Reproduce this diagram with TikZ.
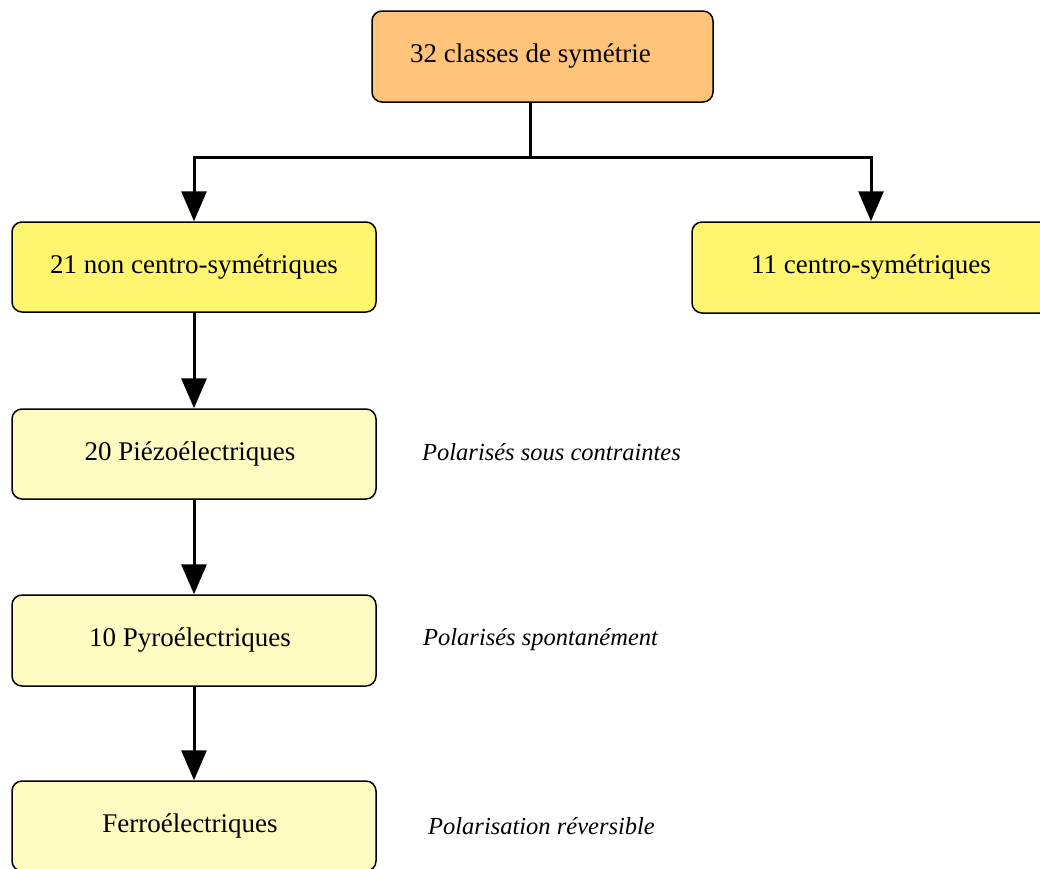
\documentclass[tikz,border=0pt]{standalone}
\usepackage{fontspec}
\setmainfont{Liberation Serif}
\usetikzlibrary{arrows.meta}
\definecolor{orangebox}{HTML}{FFC47A}
\definecolor{yellowbox}{HTML}{FFF56E}
\definecolor{paleyellow}{HTML}{FFFCC2}
\begin{document}
\begin{tikzpicture}[x=1pt,y=-1pt,
  box/.style={draw=black,line width=1.5pt,rounded corners=10pt,inner sep=0pt,
    font=\fontsize{27}{31}\selectfont},
  note/.style={anchor=west,inner sep=0pt,font=\fontsize{24.5}{28}\selectfont\itshape},
  conn/.style={line width=3pt},
  arr/.style={line width=3pt,-{Triangle[width=25pt,length=30pt]}}]
\useasboundingbox (0,0) rectangle (1040,868);
\node[box,fill=orangebox,minimum width=341pt,minimum height=91pt] (top) at (542.5,56.5) {32 classes de symétrie\hspace*{24pt}};
\node[box,fill=yellowbox,minimum width=364pt,minimum height=90pt] (n21) at (194,267) {21 non centro-symétriques};
\node[box,fill=yellowbox,minimum width=358pt,minimum height=91pt] (n11) at (871,267.5) {11 centro-symétriques};
\node[box,fill=paleyellow,minimum width=364pt,minimum height=90pt] (n20) at (194,454) {20 Piézoélectriques\hspace*{8pt}};
\node[box,fill=paleyellow,minimum width=364pt,minimum height=91pt] (n10) at (194,640.5) {10 Pyroélectriques\hspace*{8pt}};
\node[box,fill=paleyellow,minimum width=364pt,minimum height=90pt] (nf) at (194,826) {Ferroélectriques\hspace*{8pt}};
\node[note] (t20) at (422,452) {Polarisés sous contraintes};
\node[note] (t10) at (423,640) {Polarisés spontanément};
\node[note] (tf) at (428,826) {Polarisation réversible};
\coordinate (j) at (530,157);
\draw[conn] (top.south -| j) -- (j);
\draw[arr] (j) -| (n21.north);
\draw[arr] (j) -| (n11.north);
\draw[arr] (n21) -- (n20);
\draw[arr] (n20) -- (n10);
\draw[arr] (n10) -- (nf);
\end{tikzpicture}
\end{document}
